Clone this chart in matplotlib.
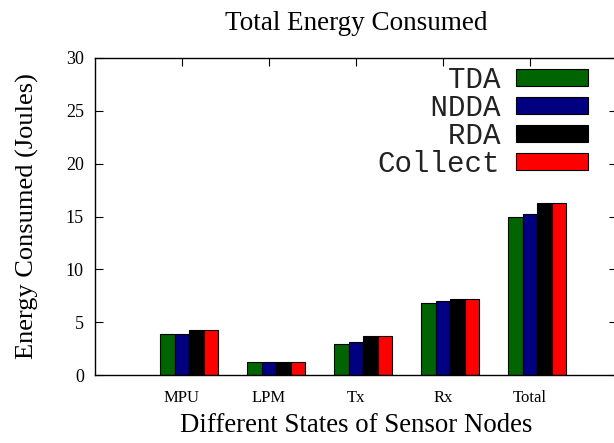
import numpy as np
import matplotlib
matplotlib.use("Agg")
import matplotlib.pyplot as plt

states = ["MPU", "LPM", "Tx", "Rx", "Total"]
series = ["TDA", "NDDA", "RDA", "Collect"]
tda = [3.9, 1.2, 2.95, 6.8, 14.95]
ndda = [3.9, 1.2, 3.1, 7.0, 15.25]
rda = [4.25, 1.2, 3.65, 7.15, 16.3]
collect = [4.25, 1.2, 3.65, 7.15, 16.3]
colors = ["#006400", "#000080", "#000000", "#ff0000"]

serif = "Liberation Serif"
mono = "Liberation Mono"

fig = plt.figure(figsize=(6.14, 4.43), dpi=100)
# plot box runs a little past the right edge of the picture, like the original
ax = fig.add_axes([95 / 614, 68 / 443, 522 / 614, 317 / 443])

x = np.arange(len(states))
width = 0.166
for j, (vals, name) in enumerate(zip([tda, ndda, rda, collect], series)):
    ax.bar(x + (j - 1) * width, vals, width, color=colors[j], edgecolor="black",
           linewidth=0.8, label=name.rjust(7))

ax.set_xlim(-1, 5)
ax.set_ylim(0, 30)
ax.set_xticks(x)
ax.set_xticklabels(states, fontfamily=serif, fontsize=12)
ax.set_yticks(range(0, 31, 5))
ax.set_yticklabels([str(v) for v in range(0, 31, 5)], fontfamily=serif, fontsize=13)
ax.tick_params(direction="in", length=6, width=0.8, top=True, right=True, pad=8)
ax.tick_params(axis="x", pad=11)
ax.set_axisbelow(True)
for s in ax.spines.values():
    s.set_linewidth(1.0)

ax.set_title("Total Energy Consumed", fontfamily=serif, fontsize=19.5, pad=20)
ax.set_xlabel("Different States of Sensor Nodes", fontfamily=serif, fontsize=19.3, labelpad=5)
ax.set_ylabel("Energy Consumed (Joules)", fontfamily=serif, fontsize=19, labelpad=19)

leg = ax.legend(loc="upper right", bbox_to_anchor=(0.944, 0.975), frameon=False,
                markerfirst=False, prop={"family": mono, "size": 21},
                handlelength=2.45, handleheight=0.48, labelspacing=0.0,
                handletextpad=0.55, borderpad=0, borderaxespad=0)
for t in leg.get_texts():
    t.set_color("#222222")

fig.savefig("out.png", dpi=100)
